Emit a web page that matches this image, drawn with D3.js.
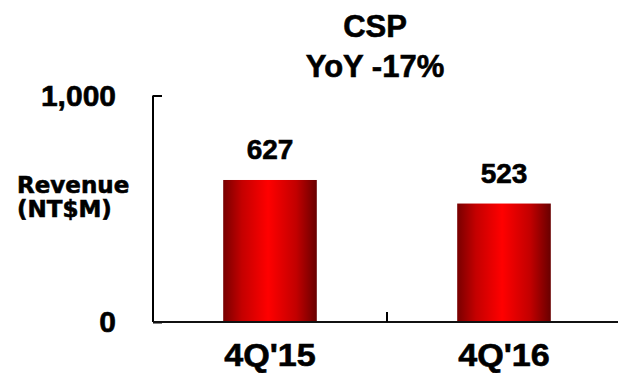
<!DOCTYPE html>
<html>
<head>
<meta charset="utf-8">
<script src="https://cdn.jsdelivr.net/npm/d3@7"></script>
<style>
  html, body { margin: 0; padding: 0; background: #fff; }
  svg { display: block; }
  text { font-family: Arial, "Liberation Sans", sans-serif; font-weight: bold; fill: #000;
         stroke: #000; stroke-width: 0.6px; }
</style>
</head>
<body>
<svg id="chart" width="618" height="373"></svg>
<script>
// Quarterly CSP revenue (NT$ millions)
const categories = ["4Q'15", "4Q'16"];
const revenue = [627, 523];
const yTicks = [0, 1000];
const titleLines = ["CSP", "YoY -17%"];
const yLabelLines = ["Revenue", "(NT$M)"];

const svg = d3.select("#chart");
const W = 618, H = 373;
const plotLeft = 153, plotRight = 621, plotTop = 95.5, plotBottom = 322;

const x = d3.scaleBand()
  .domain(categories)
  .range([plotLeft, plotRight])
  .paddingInner(0.6)
  .paddingOuter(0.3);

const y = d3.scaleLinear().domain([0, 1000]).range([plotBottom, plotTop]);

// Horizontal red-to-dark cylinder shading for the bars
const defs = svg.append("defs");
const grad = defs.append("linearGradient")
  .attr("id", "barFill")
  .attr("x1", "0%").attr("x2", "100%").attr("y1", "0%").attr("y2", "0%");
[["0%", "#780000"], ["20%", "#c40000"], ["48%", "#ff0000"], ["78%", "#c20000"], ["100%", "#680000"]]
  .forEach(([o, c]) => grad.append("stop").attr("offset", o).attr("stop-color", c));

// Bars
svg.append("g").selectAll("rect")
  .data(categories)
  .join("rect")
  .attr("x", d => x(d))
  .attr("width", x.bandwidth())
  .attr("y", (d, i) => y(revenue[i]))
  .attr("height", (d, i) => y(0) - y(revenue[i]))
  .attr("fill", "url(#barFill)");

// Value labels above bars
svg.append("g").selectAll("text")
  .data(categories)
  .join("text")
  .attr("x", d => x(d) + x.bandwidth() / 2)
  .attr("y", (d, i) => y(revenue[i]) - 21)
  .attr("text-anchor", "middle")
  .style("font-size", "28px")
  .text((d, i) => revenue[i]);

// Y axis: inward tick at the top, labels well to the left
const yAxis = d3.axisLeft(y)
  .tickValues(yTicks)
  .tickSize(-9)
  .tickPadding(37)
  .tickFormat(d3.format(","));
const gy = svg.append("g")
  .attr("transform", `translate(${plotLeft},0)`)
  .call(yAxis);
gy.select(".domain").attr("stroke", "#000").attr("stroke-width", 2)
  .attr("d", `M0,${plotTop}V${plotBottom}`);
gy.selectAll(".tick line").attr("stroke", "#000").attr("stroke-width", 2);
gy.selectAll(".tick text")
  .style("font-family", "Arial, 'Liberation Sans', sans-serif")
  .style("font-weight", "bold")
  .style("font-size", "30px")
  .attr("fill", "#000");

// X axis with category labels
const xAxis = d3.axisBottom(x).tickSize(0).tickPadding(22);
const gx = svg.append("g")
  .attr("transform", `translate(0,${plotBottom})`)
  .call(xAxis);
gx.select(".domain").attr("stroke", "#111").attr("stroke-width", 2)
  .attr("d", `M${plotLeft},0H${W}`);
gx.selectAll(".tick text")
  .style("font-family", "Arial, 'Liberation Sans', sans-serif")
  .style("font-weight", "bold")
  .style("font-size", "31px")
  .attr("fill", "#000")
  .attr("transform", "scale(1.1,1)");

// Divider tick between the two categories
const step = x.step();
const dividerX = x(categories[1]) - x.paddingInner() * step / 2;
svg.append("line")
  .attr("x1", dividerX).attr("x2", dividerX)
  .attr("y1", plotBottom - 10).attr("y2", plotBottom)
  .attr("stroke", "#000").attr("stroke-width", 2);

// Title
svg.append("g").selectAll("text")
  .data(titleLines)
  .join("text")
  .attr("x", 375)
  .attr("y", (d, i) => 37 + i * 40)
  .attr("text-anchor", "middle")
  .style("font-size", "31px")
  .text(d => d);

// Y axis title
svg.append("g").selectAll("text")
  .data(yLabelLines)
  .join("text")
  .attr("x", 17)
  .attr("y", (d, i) => 193 + i * 24)
  .style("font-family", "Tahoma, 'DejaVu Sans', sans-serif")
  .style("font-size", "23px")
  .text(d => d);
</script>
</body>
</html>
